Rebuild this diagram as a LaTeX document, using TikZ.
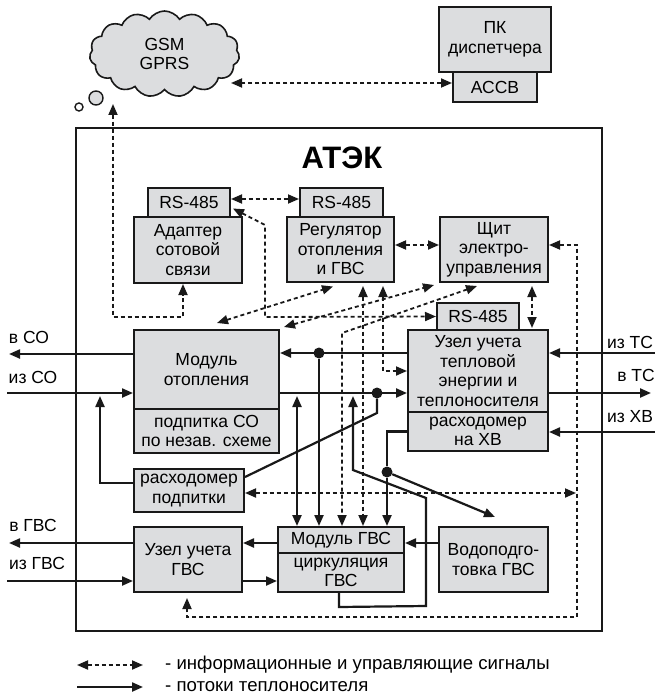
\documentclass[tikz,border=0pt]{standalone}
\usepackage{fontspec}
\setmainfont{Liberation Sans}
\usetikzlibrary{arrows.meta,shapes.symbols}
\definecolor{boxgray}{RGB}{220,221,223}
\definecolor{ink}{RGB}{25,25,25}
\tikzset{
  txt/.style={font=\fontsize{17.5}{19.5}\selectfont},
  box/.style={draw=ink, line width=2pt, fill=boxgray, inner sep=0pt, align=center, txt},
  tip/.tip={Triangle[length=11pt,width=9pt]},
  flow/.style={draw=ink, line width=2.2pt, -tip},
  flowboth/.style={draw=ink, line width=2.2pt, tip-tip},
  plain/.style={draw=ink, line width=2.2pt},
  info/.style={draw=ink, line width=1.8pt, dash pattern=on 4pt off 3pt, tip-tip},
  lbl/.style={txt, inner sep=0pt},
  keytext/.style={font=\fontsize{18.6}{20}\selectfont, inner sep=0pt, anchor=west},
  dot/.style={circle, fill=ink, inner sep=0pt, minimum size=11pt},
}
\begin{document}
\begin{tikzpicture}[x=1pt,y=-1pt]
\useasboundingbox (0,0) rectangle (654,695);

% frame of the complex
\node[draw=ink, line width=2pt, minimum width=526, minimum height=503, inner sep=0pt] (atek) at (339,379.5) {};
\node[font=\bfseries\fontsize{31}{33}\selectfont, inner sep=0pt] (title) at (342,158) {АТЭК};

% outside the frame
\node[cloud, cloud puffs=15, cloud puff arc=115, aspect=1.75, draw=ink, line width=1.6pt,
      fill=boxgray, minimum width=150, minimum height=86, inner sep=0pt, align=center, txt] (gsm) at (164.5,54) {GSM\\GPRS};
\node[circle, draw=ink, line width=1.4pt, fill=boxgray, minimum size=14, inner sep=0pt] (bubA) at (96,98) {};
\node[circle, draw=ink, line width=1.4pt, fill=white, minimum size=8, inner sep=0pt] (bubB) at (79,107) {};
\node[box, minimum width=112, minimum height=65] (pk) at (495,39.5) {ПК\\диспетчера};
\node[box, minimum width=84, minimum height=30] (acsb) at (495,87) {АССВ};

% units inside the frame
\node[box, minimum width=82, minimum height=29] (adrs) at (189,202.5) {RS-485};
\node[box, minimum width=108, minimum height=66] (adapter) at (188,250) {Адаптер\\сотовой\\связи};
\node[box, minimum width=83, minimum height=29] (regrs) at (341.5,202.5) {RS-485};
\node[box, minimum width=107, minimum height=65] (reg) at (340.5,249.5) {Регулятор\\отопления\\и ГВС};
\node[box, minimum width=108, minimum height=65] (shchit) at (494,249.5) {Щит\\электро-\\управления};
\node[box, minimum width=82, minimum height=27] (tsrs) at (478,316.5) {RS-485};
\node[box, minimum width=140, minimum height=82] (uzel) at (478,371) {Узел учета\\тепловой\\энергии и\\теплоносителя};
\node[box, minimum width=140, minimum height=39] (rashv) at (478,431.5) {расходомер\\на ХВ};
\node[box, minimum width=145, minimum height=79] (modot) at (206.5,369.5) {Модуль\\отопления};
\node[box, minimum width=145, minimum height=44] (podp) at (206.5,431) {подпитка СО\\по незав. схеме};
\node[box, minimum width=110, minimum height=43] (rpodp) at (189,490.5) {расходомер\\подпитки};
\node[box, minimum width=108, minimum height=65] (uzgvs) at (188,559.5) {Узел учета\\ГВС};
\node[box, minimum width=126, minimum height=26] (modgvs) at (341,540) {Модуль ГВС};
\node[box, minimum width=126, minimum height=39] (circ) at (341,572.5) {циркуляция\\ГВС};
\node[box, minimum width=109, minimum height=65] (vodo) at (493.5,559.5) {Водоподго-\\товка ГВС};

% pipe labels
\node[lbl] (lvso) at (29,337) {в СО};
\node[lbl] (lizso) at (33,377) {из СО};
\node[lbl] (lvgvs) at (33,525) {в ГВС};
\node[lbl] (lizgvs) at (37,563) {из ГВС};
\node[lbl] (lizts) at (630,342) {из ТС};
\node[lbl] (lvts) at (636,375) {в ТС};
\node[lbl] (lizhv) at (630,417) {из ХВ};

% levels and free ends
\coordinate (L83) at (0,83);
\coordinate (L199) at (0,199);
\coordinate (L245) at (0,245);
\coordinate (L371) at (0,371);
\coordinate (L393) at (0,393);
\coordinate (L483) at (0,483);
\coordinate (L493) at (0,493);
\coordinate (L543) at (0,543);
\coordinate (L581) at (0,581);
\coordinate (oSO) at (9,354);
\coordinate (iSO) at (7,393);
\coordinate (oGVS) at (9,543);
\coordinate (iGVS) at (7,581);
\coordinate (iTS) at (655,353);
\coordinate (oTS) at (651,393);
\coordinate (iHV) at (655,432);
\coordinate (gsmR) at (231,83);
\coordinate (gsmB) at (113,104);
\coordinate (bus) at (576,493);
\coordinate (u297) at (297,396);

% junctions
\node[dot] (j1) at (319,353) {};
\node[dot] (j2) at (377,393) {};
\node[dot] (j3) at (387,472) {};

% heat carrier flows
\draw[flow] (modot.west |- oSO) -- (oSO);
\draw[flow] (iSO) -- (modot.west |- iSO);
\draw[flow] (uzel.west |- j1) -- (modot.east |- j1);
\draw[flow] (j1) -- (modgvs.north -| j1);
\draw[flow] (modot.east |- j2) -- (uzel.west |- j2);
\draw[plain] (j2) -- ++(0,20) -- ([yshift=13.5pt]rpodp.east);
\draw[flowboth] (u297) -- (modgvs.north -| u297);
\draw[plain] (rashv.west) -- (rashv.west -| j3) -- (j3);
\draw[flow] (j3) -- (modgvs.north -| j3);
\draw[flow] (j3) -- ([xshift=1.5pt,yshift=9pt]vodo.north);
\draw[flow] ([xshift=-2pt]circ.south) -- ++(0,14) -- (426,606) -- (426,498) -- (353,470) -- (353,396);
\draw[flow] (vodo.west |- L543) -- (modgvs.east |- L543);
\draw[flow] (modgvs.west |- L543) -- (uzgvs.east |- L543);
\draw[flow] (uzgvs.east |- L581) -- (circ.west |- L581);
\draw[flow] (uzgvs.west |- L543) -- (oGVS);
\draw[flow] (iGVS) -- (uzgvs.west |- iGVS);
\draw[flow] (rpodp.west |- L483) -- (100,483) -- (100,396);
\draw[flow] (iTS) -- (uzel.east |- iTS);
\draw[flow] (uzel.east |- L393) -- (oTS);
\draw[flow] (iHV) -- (rashv.east |- iHV);

% information and control signals
\draw[info] (acsb.west |- L83) -- (gsmR);
\draw[info] (gsmB) -- (113,317) -- (183,317) -- ([xshift=-5pt]adapter.south);
\draw[info] (adrs.east |- L199) -- (regrs.west |- L199);
\draw[info] (reg.east |- L245) -- (shchit.west |- L245);
\draw[info] ([xshift=2pt,yshift=-6pt]adrs.east) -- (265,225) -- (265,317) -- (tsrs.west);
\draw[info] ([xshift=10.5pt,yshift=6pt]modot.north) -- ([xshift=-7.5pt,yshift=-3.5pt]reg.south);
\draw[info] ([xshift=4pt,yshift=2pt]modot.north east) -- ([xshift=-5pt,yshift=-2pt]shchit.south west);
\draw[info] ([xshift=-17pt,yshift=-3pt]shchit.south) -- (342,333) coordinate (v342) -- (modgvs.north -| v342);
\draw[info] ([xshift=22.5pt,yshift=-3pt]reg.south) coordinate (r363) -- (modgvs.north -| r363);
\draw[info] ([xshift=42.5pt,yshift=-3pt]reg.south) coordinate (r383) -- (r383 |- L371) -- (uzel.west |- L371);
\draw[info] ([xshift=38pt,yshift=-3pt]shchit.south) -- ([xshift=54pt,yshift=1pt]uzel.north);
\draw[info] (shchit.east |- L245) -- (577,245) -- (577,617) -- (187,617) -- ([xshift=-1pt,yshift=-5pt]uzgvs.south);
\draw[info] (rpodp.east |- L493) -- (bus);

% legend
\coordinate (k1a) at (77,665);
\coordinate (k1b) at (143,665);
\coordinate (k2a) at (77,687);
\coordinate (k2b) at (143,687);
\draw[info] (k1a) -- (k1b);
\draw[flow] (k2a) -- (k2b);
\node[keytext] (key1) at (165,665) {- информационные и управляющие сигналы};
\node[keytext] (key2) at (165,687) {- потоки теплоносителя};
\end{tikzpicture}
\end{document}
